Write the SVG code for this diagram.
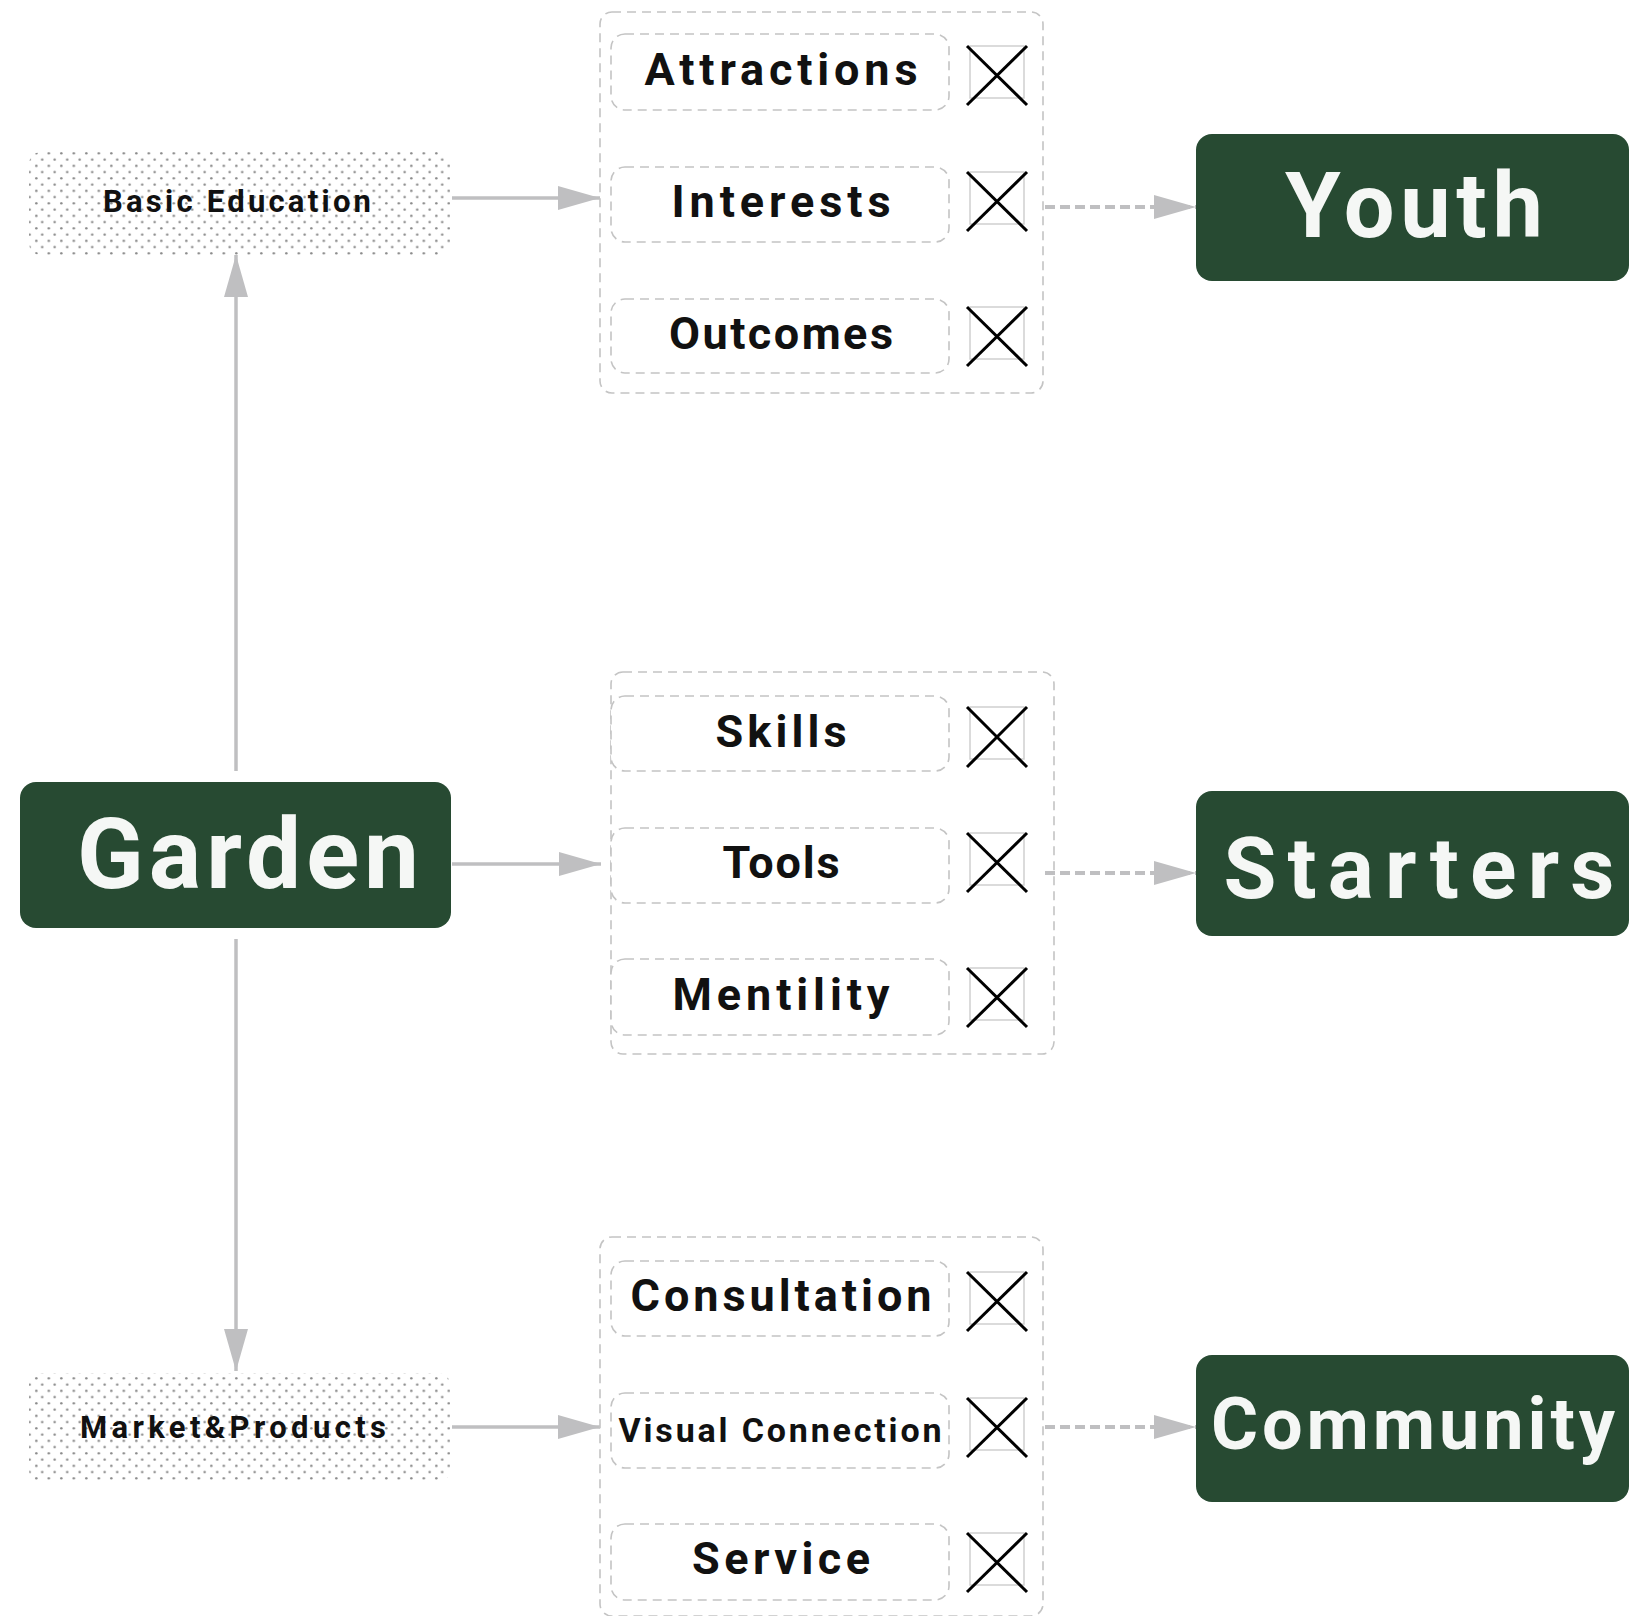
<svg xmlns="http://www.w3.org/2000/svg" width="1635" height="1616" viewBox="0 0 1635 1616">
<style>
.bg{fill:#ffffff}
.dotbox{fill:url(#dots)}
.green{fill:#274a32}
.big{font-family:Roboto,"Liberation Sans",sans-serif;font-weight:700;fill:#f5f7f5}
.lbl{font-family:Roboto,"Liberation Sans",sans-serif;font-weight:700;fill:#111111}
.cont{fill:none;stroke:#c4c4c4;stroke-width:1.6;stroke-dasharray:9 6}
.item{fill:#ffffff;stroke:#c4c4c4;stroke-width:1.6;stroke-dasharray:9 6}
.xr{fill:none;stroke:#cfcfcf;stroke-width:1.5}
.xl{stroke:#000000;stroke-width:3}
.conn{stroke:#bfbfc1;stroke-width:3.5;fill:none}
.dash{stroke:#bfbfc1;stroke-width:4;fill:none;stroke-dasharray:10 5}
</style>
<defs>
<pattern id="dots" x="26.3" y="150.2" width="12.5" height="12.5" patternUnits="userSpaceOnUse"><circle cx="10" cy="3.1" r="1.25" fill="#8a8a8a"/><circle cx="3.4" cy="9.35" r="1.25" fill="#8a8a8a"/></pattern>
<marker id="ah" markerUnits="userSpaceOnUse" markerWidth="42" markerHeight="24" refX="42" refY="12" orient="auto"><path d="M0,0 L42,12 L0,24 z" fill="#bfbfc1"/></marker>
</defs>
<rect class="bg" x="0" y="0" width="1635" height="1616"/>

<g id="connectors">
<line class="conn" x1="452" y1="198" x2="600" y2="198" marker-end="url(#ah)"/>
<line class="conn" x1="452" y1="864" x2="601" y2="864" marker-end="url(#ah)"/>
<line class="conn" x1="452" y1="1427" x2="600" y2="1427" marker-end="url(#ah)"/>
<line class="conn" x1="236" y1="771" x2="236" y2="255" marker-end="url(#ah)"/>
<line class="conn" x1="236" y1="939" x2="236" y2="1371" marker-end="url(#ah)"/>
<line class="dash" x1="1045" y1="207" x2="1196" y2="207" marker-end="url(#ah)"/>
<line class="dash" x1="1045" y1="873" x2="1196" y2="873" marker-end="url(#ah)"/>
<line class="dash" x1="1045" y1="1427" x2="1196" y2="1427" marker-end="url(#ah)"/>
</g>

<g id="basic-education">
<rect class="dotbox" x="29" y="152" width="421" height="103" rx="12"/>
<text class="lbl" x="237" y="212" font-size="31" text-anchor="middle" textLength="268" lengthAdjust="spacing">Basic Education</text>
</g>

<g id="market-products">
<rect class="dotbox" x="29" y="1373" width="421" height="109" rx="12"/>
<text class="lbl" x="233" y="1438" font-size="31" text-anchor="middle" textLength="306" lengthAdjust="spacing">Market&amp;Products</text>
</g>

<g id="garden">
<rect class="green" x="20" y="782" width="431" height="146" rx="16"/>
<text class="big" x="248" y="888" font-size="98" text-anchor="middle" textLength="342" lengthAdjust="spacing">Garden</text>
</g>

<g id="group-youth">
<rect class="cont" x="600" y="12" width="443" height="381" rx="12"/>
</g>
<g id="attractions">
<rect class="item" x="611" y="34" width="338" height="76" rx="14"/>
<text class="lbl" x="781" y="85" font-size="45" text-anchor="middle" textLength="273" lengthAdjust="spacing">Attractions</text>
<rect class="xr" x="970" y="46" width="54" height="52"/>
<line class="xl" x1="967" y1="46" x2="1027" y2="105"/><line class="xl" x1="1027" y1="46" x2="967" y2="105"/>
</g>
<g id="interests">
<rect class="item" x="611" y="167" width="338" height="75" rx="14"/>
<text class="lbl" x="781" y="217" font-size="45" text-anchor="middle" textLength="219" lengthAdjust="spacing">Interests</text>
<rect class="xr" x="970" y="172" width="54" height="52"/>
<line class="xl" x1="967" y1="172" x2="1027" y2="231"/><line class="xl" x1="1027" y1="172" x2="967" y2="231"/>
</g>
<g id="outcomes">
<rect class="item" x="611" y="299" width="338" height="74" rx="14"/>
<text class="lbl" x="781" y="349" font-size="45" text-anchor="middle" textLength="224" lengthAdjust="spacing">Outcomes</text>
<rect class="xr" x="970" y="307" width="54" height="52"/>
<line class="xl" x1="967" y1="307" x2="1027" y2="366"/><line class="xl" x1="1027" y1="307" x2="967" y2="366"/>
</g>

<g id="group-starters">
<rect class="cont" x="611" y="672" width="443" height="382" rx="12"/>
</g>
<g id="skills">
<rect class="item" x="611" y="696" width="338" height="75" rx="14"/>
<text class="lbl" x="781" y="747" font-size="45" text-anchor="middle" textLength="131" lengthAdjust="spacing">Skills</text>
<rect class="xr" x="970" y="707" width="54" height="52"/>
<line class="xl" x1="967" y1="707" x2="1027" y2="767"/><line class="xl" x1="1027" y1="707" x2="967" y2="767"/>
</g>
<g id="tools">
<rect class="item" x="611" y="828" width="338" height="75" rx="14"/>
<text class="lbl" x="781" y="878" font-size="45" text-anchor="middle" textLength="117" lengthAdjust="spacing">Tools</text>
<rect class="xr" x="970" y="833" width="54" height="52"/>
<line class="xl" x1="967" y1="833" x2="1027" y2="892"/><line class="xl" x1="1027" y1="833" x2="967" y2="892"/>
</g>
<g id="mentility">
<rect class="item" x="611" y="959" width="338" height="76" rx="14"/>
<text class="lbl" x="781" y="1010" font-size="45" text-anchor="middle" textLength="217" lengthAdjust="spacing">Mentility</text>
<rect class="xr" x="970" y="968" width="54" height="52"/>
<line class="xl" x1="967" y1="968" x2="1027" y2="1027"/><line class="xl" x1="1027" y1="968" x2="967" y2="1027"/>
</g>

<g id="group-community">
<rect class="cont" x="600" y="1237" width="443" height="379" rx="12"/>
</g>
<g id="consultation">
<rect class="item" x="611" y="1261" width="338" height="75" rx="14"/>
<text class="lbl" x="781" y="1311" font-size="45" text-anchor="middle" textLength="301" lengthAdjust="spacing">Consultation</text>
<rect class="xr" x="970" y="1272" width="54" height="52"/>
<line class="xl" x1="967" y1="1272" x2="1027" y2="1331"/><line class="xl" x1="1027" y1="1272" x2="967" y2="1331"/>
</g>
<g id="visual-connection">
<rect class="item" x="611" y="1393" width="338" height="75" rx="14"/>
<text class="lbl" x="780" y="1442" font-size="34" text-anchor="middle" textLength="323" lengthAdjust="spacing">Visual Connection</text>
<rect class="xr" x="970" y="1398" width="54" height="52"/>
<line class="xl" x1="967" y1="1398" x2="1027" y2="1457"/><line class="xl" x1="1027" y1="1398" x2="967" y2="1457"/>
</g>
<g id="service">
<rect class="item" x="611" y="1524" width="338" height="76" rx="14"/>
<text class="lbl" x="781" y="1574" font-size="45" text-anchor="middle" textLength="178" lengthAdjust="spacing">Service</text>
<rect class="xr" x="970" y="1533" width="54" height="52"/>
<line class="xl" x1="967" y1="1533" x2="1027" y2="1592"/><line class="xl" x1="1027" y1="1533" x2="967" y2="1592"/>
</g>

<g id="youth">
<rect class="green" x="1196" y="134" width="433" height="147" rx="16"/>
<text class="big" x="1414" y="237" font-size="90" text-anchor="middle" textLength="258" lengthAdjust="spacing">Youth</text>
</g>
<g id="starters">
<rect class="green" x="1196" y="791" width="433" height="145" rx="16"/>
<text class="big" x="1419" y="898" font-size="86" text-anchor="middle" textLength="391" lengthAdjust="spacing">Starters</text>
</g>
<g id="community">
<rect class="green" x="1196" y="1355" width="433" height="147" rx="16"/>
<text class="big" x="1413" y="1449" font-size="72" text-anchor="middle" textLength="404" lengthAdjust="spacing">Community</text>
</g>
</svg>
